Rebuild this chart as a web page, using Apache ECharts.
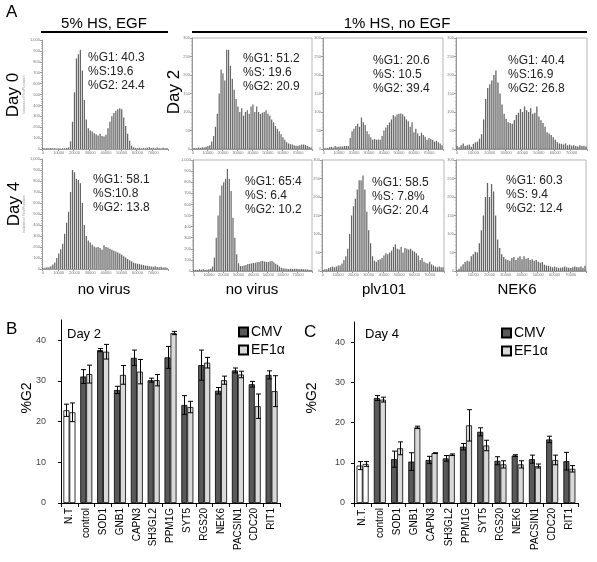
<!DOCTYPE html>
<html><head><meta charset="utf-8">
<script src="https://cdn.jsdelivr.net/npm/echarts@6/dist/echarts.min.js"></script>
<style>html,body{margin:0;padding:0;background:#fff}#c{width:597px;height:562px}</style>
</head><body><div id="c"></div>
<script>
// ---------- Panel A: histograms (64 bins each) ----------
const histDay0EGF = [10,8,10,6,10,8,6,5,6,5,8,6,10,15,70,250,520,830,870,910,720,450,270,190,170,160,145,135,125,140,120,115,130,190,250,300,330,350,365,375,365,290,210,140,75,30,15,10,8,12,6,10,8,12,15,10,12,8,14,10,8,12,6,10];
const histDay2NoVirus = [2,3,2,4,3,5,4,6,8,10,20,35,60,95,150,215,205,185,268,268,225,190,160,135,115,100,110,90,100,105,95,115,120,100,115,100,95,98,100,105,95,90,80,72,62,55,48,40,32,25,18,15,13,12,10,9,8,10,12,12,11,8,6,4];
const histDay2Plv101 = [2,2,3,5,6,4,8,6,6,7,7,8,8,8,30,48,55,62,68,60,85,72,65,48,40,32,25,27,25,26,25,35,50,58,65,72,80,92,88,93,95,96,94,88,80,75,60,72,45,55,42,35,44,38,33,25,30,27,24,20,22,18,15,10];
const histDay2NEK6 = [8,5,10,15,8,10,12,6,14,18,20,28,40,80,135,165,175,185,200,212,180,150,120,95,82,72,70,68,78,92,98,108,100,115,105,100,110,95,98,115,88,78,70,60,45,42,38,32,25,18,15,14,12,15,10,12,9,10,8,7,10,8,9,7];
const histDay4EGF = [10,12,15,15,25,40,60,100,140,180,230,320,420,520,700,900,880,820,810,780,600,400,300,260,240,220,205,195,200,190,175,215,200,195,185,175,165,158,150,140,130,115,105,92,80,70,58,52,48,44,40,36,32,30,26,22,20,25,18,15,20,14,16,12];
const histDay4NoVirus = [10,12,10,15,12,15,10,12,15,20,40,120,300,500,680,770,800,830,920,830,720,480,300,150,70,45,45,50,55,62,65,68,72,75,78,82,88,90,85,82,80,88,90,78,65,55,40,30,25,22,20,18,20,18,20,20,18,15,18,16,15,14,12,10];
const histDay4Plv101 = [3,5,5,8,10,12,10,12,15,15,20,30,40,60,100,150,175,195,220,245,245,258,220,160,110,75,40,28,25,30,32,35,42,48,45,50,55,65,72,60,58,65,50,62,60,58,60,55,52,48,42,30,35,25,22,20,25,18,15,12,10,12,10,10];
const histDay4NEK6 = [3,6,12,18,24,28,26,40,45,52,50,75,110,150,200,238,200,235,215,150,85,62,45,38,32,30,28,35,38,30,36,40,32,40,33,35,30,32,28,30,25,22,24,17,15,14,12,10,12,10,8,9,10,12,10,9,8,10,12,11,10,12,9,14];
const histYMax = [1000,300,300,300,1000,1000,300,300];
const histYStep = [100,50,50,50,100,100,50,50];
const histXTicks = ['0','10000','20000','30000','40000','50000','60000','70000'];
const histStats = [
  ['%G1: 40.3','%S:19.6','%G2: 24.4'],
  ['%G1: 51.2','%S: 19.6','%G2: 20.9'],
  ['%G1: 20.6','%S: 10.5','%G2: 39.4'],
  ['%G1: 40.4','%S:16.9','%G2: 26.8'],
  ['%G1: 58.1','%S:10.8','%G2: 13.8'],
  ['%G1: 65:4','%S: 6.4','%G2: 10.2'],
  ['%G1: 58.5','%S: 7.8%','%G2: 20.4'],
  ['%G1: 60.3','%S: 9.4','%G2: 12.4']
];
const conditionLabels = ['5% HS, EGF','1% HS, no EGF'];
const dayLabels = ['Day 0','Day 2','Day 4'];
const virusLabels = ['no virus','no virus','plv101','NEK6'];

// ---------- Panels B and C ----------
const genesB = ['N.T','control','SOD1','GNB1','CAPN3','SH3GL2','PPM1G','SYT5','RGS20','NEK6','PACSIN1','CDC20','RIT1'];
const genesC = ['N.T.','control','SOD1','GNB1','CAPN3','SH3GL2','PPM1G','SYT5','RGS20','NEK6','PACSIN1','CDC20','RIT1'];
const day2CMV = [22.8,31.1,37.6,27.8,35.7,30.2,35.8,24.1,33.9,27.6,32.6,29.2,31.5];
const day2CMVErr = [1.5,1.7,0.4,0.9,1.9,0.5,2.7,2.3,3.7,0.8,0.6,0.7,1.0];
const day2EF1a = [22.3,31.7,37.2,31.5,32.3,30.2,41.8,23.6,34.5,30.2,31.6,23.8,27.5];
const day2EF1aErr = [2.3,2.2,1.8,2.3,3.0,1.4,0.4,1.4,1.3,1.0,0.8,3.0,3.8];
const day4CMV = [9.3,26.1,10.9,10.3,10.7,11.1,14.0,17.7,10.5,11.8,10.9,15.8,10.4];
const day4CMVErr = [1.0,0.6,2.0,2.2,0.9,0.7,0.8,1.0,1.0,0.2,1.0,0.8,2.2];
const day4EF1a = [9.7,25.7,13.6,18.8,12.4,12.0,19.3,14.3,9.6,9.6,9.2,10.7,8.5];
const day4EF1aErr = [0.6,0.6,1.6,0.3,0.1,0.2,3.9,1.3,0.9,0.9,0.5,1.2,0.8];
const g2Ticks = [0,10,20,30,40];
const seriesNames = ['CMV','EF1α'];

// ---------- build ----------
const FONT = '"Liberation Sans", Arial, sans-serif';
const hists = [histDay0EGF,histDay2NoVirus,histDay2Plv101,histDay2NEK6,histDay4EGF,histDay4NoVirus,histDay4Plv101,histDay4NEK6];
const histGrids = [
  {left:42, top:40, width:126, height:109, box:false},
  {left:192, top:38, width:120, height:111, box:true},
  {left:323, top:38, width:120, height:111, box:true},
  {left:456, top:38, width:131, height:111, box:true},
  {left:42, top:159, width:126, height:110, box:false},
  {left:193, top:160, width:119, height:111, box:true},
  {left:322, top:160, width:122, height:111, box:true},
  {left:456, top:160, width:130, height:111, box:true}
];
const statPos = [[88,58],[243,59],[373,61],[508,61],[93,180],[245,182],[372,183],[506,181]];

const grid=[], xAxis=[], yAxis=[], series=[], graphic=[];
hists.forEach((h,k)=>{
  const g = histGrids[k];
  grid.push({left:g.left, top:g.top, width:g.width, height:g.height, show:g.box, borderColor:'#b5b5b5', borderWidth:1, backgroundColor:'transparent'});
  xAxis.push({type:'category', gridIndex:k, data:h.map((_,i)=>String(i)), boundaryGap:true,
    axisLine:{lineStyle:{color:'#9a9a9a', width:1}},
    axisTick:{show:true, interval:7, length:2, lineStyle:{color:'#9a9a9a'}},
    axisLabel:{show:true, interval:7, fontSize:4, color:'#777', margin:2, fontFamily:FONT,
      formatter:(v,idx)=>histXTicks[Math.round(idx/8)] || ''}});
  yAxis.push({type:'value', gridIndex:k, min:0, max:histYMax[k], interval:histYStep[k],
    axisLine:{show:true, lineStyle:{color:'#9a9a9a', width:1}},
    axisTick:{show:true, length:2, lineStyle:{color:'#9a9a9a'}},
    minorTick:{show:true, splitNumber:5, length:1, lineStyle:{color:'#c0c0c0'}},
    splitLine:{show:false},
    axisLabel:{fontSize:4, color:'#777', margin:2, fontFamily:FONT},
    name: g.box ? '' : 'Instances of Flow/Population', nameLocation:'middle', nameGap:10,
    nameTextStyle:{fontSize:3, color:'#999', fontFamily:FONT}});
  series.push({type:'bar', xAxisIndex:k, yAxisIndex:k, data:h, barCategoryGap:'35%',
    itemStyle:{color:'#666666'}, silent:true});
  const p = statPos[k];
  histStats[k].forEach((t,j)=>{
    graphic.push({type:'text', x:p[0], y:p[1]+j*14, style:{text:t, fill:'#222', fontSize:12, fontFamily:FONT,
      textAlign:'left', textVerticalAlign:'middle', align:'left', verticalAlign:'middle'}});
  });
});

function addBarPanel(gi, cats, cmv, cmvE, ef, efE, pos){
  grid.push({left:pos.left, top:pos.top, width:pos.width, height:pos.height});
  xAxis.push({type:'category', gridIndex:gi, data:cats,
    axisLine:{lineStyle:{color:'#000', width:1}},
    axisTick:{show:true, length:4, lineStyle:{color:'#000'}},
    axisLabel:{rotate:90, interval:0, fontSize:10, color:'#000', margin:5, fontFamily:FONT}});
  yAxis.push({type:'value', gridIndex:gi, min:0, max:45, interval:10,
    axisLine:{show:true, lineStyle:{color:'#000', width:1}},
    axisTick:{show:true, length:3, customValues:g2Ticks, lineStyle:{color:'#000'}},
    axisLabel:{fontSize:9, color:'#444', margin:pos.labelMargin, customValues:g2Ticks, fontFamily:FONT},
    splitLine:{show:false}});
  const mk = (arr)=>arr.map((v,i)=> i===0 ? {value:v, itemStyle:{color:'#ffffff'}} : v);
  series.push({name:seriesNames[0], type:'bar', xAxisIndex:gi, yAxisIndex:gi, data:mk(cmv), barWidth:6, barGap:'0%',
    itemStyle:{color:'#595959', borderColor:'#000', borderWidth:0.8}});
  series.push({name:seriesNames[1], type:'bar', xAxisIndex:gi, yAxisIndex:gi, data:mk(ef), barWidth:6, barGap:'0%',
    itemStyle:{color:'#d9d9d9', borderColor:'#000', borderWidth:0.8}});
  const errRender = (off)=>function(params, api){
    const i=api.value(0), v=api.value(1), e=api.value(2);
    const a=api.coord([i, v+e]), b=api.coord([i, v-e]);
    const x=Math.round(a[0]+off)+0.5, hw=2.5;
    const st={stroke:'#000', lineWidth:1};
    return {type:'group', children:[
      {type:'line', shape:{x1:x,y1:a[1],x2:x,y2:b[1]}, style:st},
      {type:'line', shape:{x1:x-hw,y1:a[1],x2:x+hw,y2:a[1]}, style:st},
      {type:'line', shape:{x1:x-hw,y1:b[1],x2:x+hw,y2:b[1]}, style:st}]};
  };
  series.push({type:'custom', xAxisIndex:gi, yAxisIndex:gi, z:5, renderItem:errRender(-3),
    data:cmv.map((v,i)=>[i,v,cmvE[i]]), silent:true});
  series.push({type:'custom', xAxisIndex:gi, yAxisIndex:gi, z:5, renderItem:errRender(3),
    data:ef.map((v,i)=>[i,v,efE[i]]), silent:true});
}
addBarPanel(8, genesB, day2CMV, day2CMVErr, day2EF1a, day2EF1aErr, {left:61, top:320, width:219, height:183, labelMargin:15});
addBarPanel(9, genesC, day4CMV, day4CMVErr, day4EF1a, day4EF1aErr, {left:354, top:322, width:224, height:181, labelMargin:9});

// ---------- text / decorations ----------
function txt(t, x, y, size, opts){
  opts = opts||{};
  return {type:'text', x:x, y:y, rotation:opts.rot||0, style:{text:t, fill:'#000', fontSize:size, fontFamily:FONT,
    textAlign:opts.align||'center', textVerticalAlign:'middle', align:opts.align||'center', verticalAlign:'middle'}};
}
graphic.push(txt('A', 6, 12, 17, {align:'left'}));
graphic.push(txt('B', 6, 329, 17, {align:'left'}));
graphic.push(txt('C', 304, 332, 17, {align:'left'}));
graphic.push(txt(conditionLabels[0], 104, 24, 15));
graphic.push(txt(conditionLabels[1], 397, 24, 15));
graphic.push({type:'line', shape:{x1:41,y1:32,x2:168,y2:32}, style:{stroke:'#000', lineWidth:2}});
graphic.push({type:'line', shape:{x1:192,y1:32,x2:587,y2:32}, style:{stroke:'#000', lineWidth:2}});
graphic.push(txt(dayLabels[0], 13, 95, 17, {rot:Math.PI/2}));
graphic.push(txt(dayLabels[1], 174, 92, 17, {rot:Math.PI/2}));
graphic.push(txt(dayLabels[2], 14, 204, 17, {rot:Math.PI/2}));
[104,252,384,517].forEach((cx,i)=>graphic.push(txt(virusLabels[i], cx, 290, 15)));
graphic.push(txt('Day 2', 67, 334, 13, {align:'left'}));
graphic.push(txt('Day 4', 365, 334, 13, {align:'left'}));
graphic.push(txt('%G2', 27, 398, 14, {rot:Math.PI/2}));
graphic.push(txt('%G2', 312, 398, 14, {rot:Math.PI/2}));

const legendBase = {orient:'vertical', data:seriesNames, icon:'rect', itemWidth:9, itemHeight:9, itemGap:4,
  textStyle:{fontSize:14, color:'#000', fontFamily:FONT, padding:[0,0,0,-2]}, padding:0, selectedMode:false};
const option = {
  animation:false,
  grid, xAxis, yAxis, series, graphic,
  legend:[Object.assign({left:238, top:325}, legendBase), Object.assign({left:501, top:326}, legendBase)]
};
const chart = echarts.init(document.getElementById('c'), null, {renderer:'canvas'});
chart.setOption(option);
</script></body></html>
